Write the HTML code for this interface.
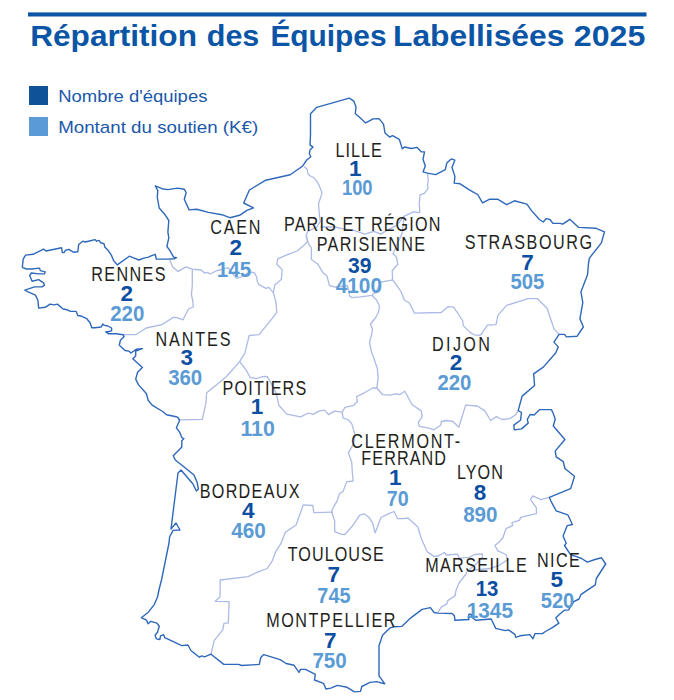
<!DOCTYPE html>
<html lang="fr"><head><meta charset="utf-8"><title>Répartition des Équipes Labellisées 2025</title>
<style>
html,body{margin:0;padding:0;background:#fff;}
svg{display:block;font-family:"Liberation Sans",Arial,sans-serif;}
</style></head><body>
<svg width="674" height="700" viewBox="0 0 674 700">
<rect x="28" y="12.4" width="618.5" height="4.1" fill="#0b55a6"/>
<text x="30.19" y="46.10" font-size="29" font-weight="bold" fill="#0b55a6" textLength="166.77" lengthAdjust="spacingAndGlyphs">Répartition</text>
<text x="206.75" y="46.10" font-size="29" font-weight="bold" fill="#0b55a6" textLength="52.60" lengthAdjust="spacingAndGlyphs">des</text>
<text x="270.40" y="46.10" font-size="29" font-weight="bold" fill="#0b55a6" textLength="116.22" lengthAdjust="spacingAndGlyphs">Équipes</text>
<text x="392.97" y="46.10" font-size="29" font-weight="bold" fill="#0b55a6" textLength="171.43" lengthAdjust="spacingAndGlyphs">Labellisées</text>
<text x="573.79" y="46.10" font-size="29" font-weight="bold" fill="#0b55a6" textLength="71.51" lengthAdjust="spacingAndGlyphs">2025</text>
<rect x="29" y="86" width="19" height="19" fill="#0f5298"/>
<rect x="29" y="117" width="19" height="19" fill="#5b9bd5"/>
<text x="58.19" y="101.60" font-size="17" font-weight="normal" fill="#1a58aa" textLength="149.18" lengthAdjust="spacingAndGlyphs">Nombre d&#39;équipes</text>
<text x="58.16" y="132.70" font-size="17" font-weight="normal" fill="#1a58aa" textLength="200.10" lengthAdjust="spacingAndGlyphs">Montant du soutien (K€)</text>
<g fill="none" stroke="#adbae6" stroke-width="1.3" stroke-linejoin="round">
<polyline points="304.1,166.4 307.1,169.3 308.2,174.2 311.1,176.5 313.8,177.6 316.9,181.4 319.1,185.4 321,190 322,193.1 318.5,203.8 319.4,214.5 320.3,221.6 316.7,227 307.8,231.4 306,235.9 307.8,241.2 302.5,246.6 297.1,251 290,253.6 285.7,255.3 277.7,258.9 276.8,264.2 282.2,269.6 281.3,279.4 275,284.7 273.3,292.7 268.8,287.4 266.1,288.3 259,284.7 257.2,281.2 256.7,277.3 254.5,272.9 250,271.8 241.9,276.6 236.7,278.4 232,273 228.2,267.7 222,269.5 217.2,270.5 210.1,274 207.4,272.3 204.7,273.1 201.2,270 192.3,269.2 186,266.9 178,271.4 172.7,266.9 169.8,260"/>
<polyline points="320.3,227 334.5,227 343.4,228.8 354.1,230.5 364.8,234.1 373.7,231.4 380.8,234.1 389.7,228.8 396.8,225.2 403.9,216.3 413.4,211.9 419.8,212.6"/>
<polyline points="427.5,173.1 428.2,180 427.5,185.9 428.2,188.2 424.5,193.4 420.1,194.8 419.3,203.7 419.8,212.6"/>
<polyline points="404.2,215.8 402.3,231.9 401.5,234.9 398,242 394.8,249.7 393,253.7 396.3,256.9 397.9,264.3 392.2,270.8 392.6,280"/>
<polyline points="306.5,236.5 308.2,243.1 311.4,248 311.4,259.4 318,264.3 322.8,272.4 326.9,275.7 329.4,285.5 335.1,287.1 342,286 347.3,285.5 349.8,296.1 352.2,297.7 360.4,296.9 371.8,295.3 376,292 380.8,282.2 393,279.8"/>
<polyline points="392.8,280 397.9,287.1 401.2,292 404.5,300.2 409.2,302.7 414.5,313.1 441.2,312.5 448.3,306.6 453.7,307.2 462.6,320.5 463.5,325.9 470,332.4 474.1,334.8 479.6,335.3 481.3,334.4 487.4,325.1 496,324.7 498,315.1 506.6,305.4 527.9,298.7 537.5,298.7 547.1,308.3 553.9,328.6 559.1,334.4"/>
<polyline points="371.8,295.3 376.7,300.2 379.5,306 378.5,312.5 375,318.5 370.5,324 372.5,329.5 371.5,335 369.5,342.5 371.5,352 374.5,360 377.3,368.6 378.2,377.4 376.8,388"/>
<polyline points="192.3,269.2 192.3,285.6 191.4,294.5 192.6,300 193.3,307 188.5,309 183,319.8 177.1,317.7 173.3,317.4 161.7,324.7 146.3,328 135.7,334.7 123.1,334.7"/>
<polyline points="273.3,292.7 275.9,301.6 276.8,312.3 271.5,319.4 259,334.6 249.2,335.5 246.6,346.1 244.8,353.3 242.3,357.1 239.6,361.6 226.3,376.7 215.6,385.6 206.7,392.7 205.8,403.4 202.3,419.4 180,419.8 178.5,418.5"/>
<polyline points="239.6,361.6 245.9,369.6 250.3,377.6 256.6,378.5 263.7,376.3 267.2,376.7 270.8,382.9 276.1,392.7 278.8,405.2 286.8,414.1 300.6,416.9 308.3,413 313.1,414.4 318.9,411.1 324.7,410.1 328.6,414.6 334.4,411.1 342.1,412.1 345,407.3 353.6,405.3 357.5,401.5 356.5,396.6 364.3,392.8 372.9,388 376.8,388 382.6,394.7 390.3,395.1 395.1,393.8 400,394.5 404.8,391.2 412,404.5 421.2,410.9 422.2,416.6 418.3,422.4 419.3,426.3 428.9,428.2 433.8,429.8 440.5,425.3 441.5,421.5 446.3,420.5 453,421.5 458.8,427.3 465.6,405.1 477.1,406 484.9,410.9 490.6,420.5 496.4,416.6 502.2,419.5 509.9,418.6 515.7,414.7 518.2,410.6"/>
<polyline points="342.1,412.1 343,417.9 348.3,420 351.7,423.6 355,434.7 353.6,443.9 348.4,452.6 351.7,462.2 352.3,471.9 353.1,481 346.6,481.9 343.1,491.4 339.5,493.7 337.1,500.9 333.6,506.8 331.5,511.5 334.7,521 334.7,531.7 340.7,534.1 344.8,534.5 352.6,525.8 359.7,515.1 364.4,513.9 369.2,517.5 372.7,523.4 375.1,532.9 381,517.5 388.2,513.9 394.1,511.5 397.7,518.7 403.6,518.7 408,518 417.8,527 421.4,538.8 427.3,551.9 434.5,556.6 439.2,555.5 444.3,552.5 446.3,555 457.5,554.1 459.2,558.2 469,557.3 474.8,554.5 482.3,553.8 482.3,557.5 476,564 467.3,571.2"/>
<polyline points="333,512.2 313.9,512.6 312.8,505.5 303.3,504.8 296.1,525 285.5,532.1 280.7,543.9 276,551.1 272.4,560.6 267.3,568.5 257,572.4 248,576.6 220.2,580 220,596.9 215.2,601.3 229.1,601.7 228.3,622.9 223.9,623.3 222.9,629.7 214.3,640.3 211,654.2"/>
<polyline points="467.3,571.2 465.7,574.5 459.2,582.6 455.9,590.8 455.1,595.7 447.7,600.6 446.9,603.9 441.2,607.1 437.8,612.6"/>
<polyline points="549.4,497.4 540.9,499.6 532.7,495.9 530.5,499.6 536.4,507.8 536.4,513.7 529.7,515.2 520.8,517.4 519.3,520.4 511.9,522.6 512.7,525.6 506,528.6 503,537.5 500.1,541.2 494.9,545.6 497.8,550.8 506,554.5 507.5,559.7 503,562.7 498.6,565.7 490,568.5 480,569.5 467.3,571.2"/>
</g>
<polygon points="316.7,107.3 349.3,98.2 353.8,101.1 356,107.1 355.3,113.7 358.2,116 365.7,122.9 373.1,118.9 379,118.6 383.5,124.1 385,133 389.6,137 392.6,135.6 399.3,139.3 402.3,148.9 404.5,147 411.2,148.5 417.1,147.4 421.5,151.9 424.5,151.9 423,159.3 425.3,166 423,171.9 427.5,173.1 435.6,174.6 445.3,169.7 446.8,163 451.2,158.9 454.9,160.1 452,167.5 454.9,176.4 454.2,183.1 460.1,183.8 469,189.7 474.2,192.7 477.7,194.5 482.5,202.8 489.3,199.3 498,199.3 506.6,204.7 514.4,200.8 526.9,204.1 531.7,210.9 539.4,219.5 543.3,222 546.2,218.6 550,219.5 552.9,223.4 560,223.4 562.7,224.2 569.8,219.3 578.7,227.4 595.6,228.2 604.5,231.8 601.4,242.9 589.4,258.1 588.5,263.4 587.6,274.5 580.9,291.9 582.8,302.5 579.9,318.9 583.4,327 580.9,330.5 577,336.3 566.4,336.9 564.5,334.4 559.1,334.4 553.9,342.1 558.3,346.9 555.8,352.7 543.3,367.1 533.6,373.9 534.6,385.5 522.1,396.1 518.2,410.6 521.5,412.5 520.5,420.3 513.8,425.1 514.3,429.9 521.5,428.9 528.2,423.1 527.3,419.3 530.1,414.5 534,415 539.8,409.6 551.4,409.6 553.3,413.5 555.2,419.3 553.3,426 564.9,439.5 555.2,451.1 556.2,456.9 563.3,461.7 564.9,468.5 574.5,476.2 572.2,483.9 570.6,488.7 549.4,497.4 551.4,502.2 556.2,510.9 567.8,514.8 572.4,524.5 567.2,525.6 563.1,536 566.2,543.2 564.5,545.5 570.7,554.9 575.9,556.4 581.6,558.5 587.3,562.1 595,559.5 601.5,557.8 605.7,564 596.3,578.5 595.3,584.8 581.1,594.3 579,599 573.8,601.6 570.7,606.3 568.6,609.9 564,610.4 559.3,614.6 555.8,618 558.9,623.2 552.7,627.4 545.4,631.5 542.3,633.6 535,633.6 533,638.8 529.9,634.6 520,635.8 515.7,637.3 515,634.3 508.3,629.9 505.3,630.6 495.7,628.4 491.2,619 475.6,620.2 471.9,617.3 471.2,614.3 469,614.3 468.2,617.3 469,619.5 454.9,620.2 454.4,615.8 451.9,613.5 437.8,613.1 434.1,612.5 430.4,607.6 422.1,609.4 410.5,618.1 401.8,626.4 394.1,626.8 389.9,627.9 382.5,635.3 379,645.7 379,675.9 384.7,683.7 376.5,681.6 370,682.4 361.8,686.5 360.5,691.4 354.5,691.9 347.1,687.3 337.3,685.4 330.8,688.1 325.9,689 323.5,683.3 314.5,680 315.3,674.3 305.5,669.4 300.6,669.4 299,672.3 294.1,665.3 286.1,663.5 280.1,659.6 263.8,654.6 260.8,657.5 259.3,664.4 241.5,665.5 238.6,664.4 223.8,664.4 211,654.2 204.6,656.9 201.8,655.9 199.4,657.2 190.9,650.5 187.9,645 181.8,645.6 164.8,637.7 163.6,634.7 160.5,635.9 159.9,639.5 156.3,638.9 155.1,635.3 157.5,632.3 159.3,626.2 156.9,623.1 150.8,621.3 148.1,623.7 146.5,620.1 141.3,617.7 148.4,612.2 154.4,604.3 157.5,597 159.3,588.5 161.5,580 169,543 169.6,537 173,530.4 180,530 176,523 171,529 178,473 181,470 193,484 196.4,491 198.4,489 197,482 194,475 186,468.5 175.3,460 173.2,455.7 177.5,451.4 181.8,447.1 181.8,440.7 183.9,438.6 181.8,437.5 179.6,432.1 176.4,427.8 179.5,420.5 178.1,417.6 176.2,416.7 166.5,414.8 162.7,411.5 152.1,405.1 148.2,400.3 146.3,393.5 138.6,384.9 135.7,379.1 137.6,372.3 142.4,367.5 132.8,358.8 135.7,355.9 135.7,351.1 142.4,348.6 136.6,349.2 130.9,353 128.9,351.1 125.1,350.5 119.3,345.3 120.3,340.5 124.1,336.6 123.1,334.7 116.4,333.8 108.7,333.8 105.8,331.8 107.7,331.8 111.6,330.9 111.6,328 107.7,326 103.9,325.1 102.9,324.1 101,327 95,327.7 91.7,327.7 90.1,322.8 86.8,318.7 81.9,316.3 77.8,315.5 76.2,311.4 70.5,311.4 67.2,309.8 63.1,309 57.4,304.1 54.2,304.9 50.1,304.1 45.2,307.3 38.7,308.1 37.8,300 35.4,295.1 28.1,291.8 24.8,290.2 34.6,286.9 41.9,286.9 44.4,285.3 43.6,282.8 38.7,279.6 32.1,281.2 29.7,275.5 31.3,273 38.7,273.9 44.4,273.9 45.2,271.9 40.3,270.6 39.5,268.1 31.3,269 26.4,269 22.3,267.3 23.2,259.2 25.6,255.1 33,254.3 43.6,249.1 46,251 61.5,247.7 62.3,252.6 64,252.6 65.6,250.2 68.9,249.4 73.8,252.3 77.8,251.8 78.7,244.5 82.7,241.2 85.2,242 88.4,241.2 95,239.6 96.6,241.2 99.1,240.4 100.7,242.8 104,243.7 104.8,246.9 108,250.2 111.3,255.1 113.7,260.8 117.3,264.9 129.3,256.2 134.1,258.1 138.9,260 143.8,258.1 148.6,257.1 150.5,256.2 155.3,254.3 156.3,259.1 167.9,259.1 174.6,258.7 176.5,257.7 173.6,257.1 169.8,250.4 166.9,246.5 168.8,237.9 167.9,232.1 168.8,220.5 165,214.7 159.2,208 157.3,197.4 157.8,190.6 155.3,185.8 162.1,188.7 167.9,189.6 177.5,188.1 184.3,189.3 186.2,192.5 184.3,199.3 189.1,209.9 196.8,209.3 208.4,212.4 221.9,214.7 229.8,217.7 239.6,215.3 246.9,210.4 253.5,207.9 243.7,203 249.4,190 265.7,180.2 290.2,174.8 302.4,166.3 306.7,160 310.8,156.8 309.3,153.8 310,150.1 313,147.1 310,144.9 310.5,134.5 310.5,113.7" fill="none" stroke="#2e68ba" stroke-width="1.4" stroke-linejoin="round"/>
<text transform="translate(335.57,156.50) scale(0.8,1)" font-size="20.2" font-weight="normal" fill="#231f20" style="letter-spacing:1.278px">LILLE</text>
<text transform="translate(464.77,249.00) scale(0.8,1)" font-size="20.2" font-weight="normal" fill="#231f20" style="letter-spacing:1.987px">STRASBOURG</text>
<text transform="translate(283.97,230.60) scale(0.8,1)" font-size="20.2" font-weight="normal" fill="#231f20" style="letter-spacing:1.435px">PARIS ET RÉGION</text>
<text transform="translate(316.77,251.10) scale(0.8,1)" font-size="20.2" font-weight="normal" fill="#231f20" style="letter-spacing:1.602px">PARISIENNE</text>
<text transform="translate(210.18,234.00) scale(0.8,1)" font-size="20.2" font-weight="normal" fill="#231f20" style="letter-spacing:2.267px">CAEN</text>
<text transform="translate(91.27,280.60) scale(0.8,1)" font-size="20.2" font-weight="normal" fill="#231f20" style="letter-spacing:1.730px">RENNES</text>
<text transform="translate(155.57,345.70) scale(0.8,1)" font-size="20.2" font-weight="normal" fill="#231f20" style="letter-spacing:2.355px">NANTES</text>
<text transform="translate(222.57,394.90) scale(0.8,1)" font-size="20.2" font-weight="normal" fill="#231f20" style="letter-spacing:1.472px">POITIERS</text>
<text transform="translate(431.97,350.80) scale(0.8,1)" font-size="20.2" font-weight="normal" fill="#231f20" style="letter-spacing:2.989px">DIJON</text>
<text transform="translate(351.28,447.80) scale(0.8,1)" font-size="20.2" font-weight="normal" fill="#231f20" style="letter-spacing:2.153px">CLERMONT-</text>
<text transform="translate(361.37,465.30) scale(0.8,1)" font-size="20.2" font-weight="normal" fill="#231f20" style="letter-spacing:1.373px">FERRAND</text>
<text transform="translate(456.97,479.40) scale(0.8,1)" font-size="20.2" font-weight="normal" fill="#231f20" style="letter-spacing:1.266px">LYON</text>
<text transform="translate(199.67,498.30) scale(0.8,1)" font-size="20.2" font-weight="normal" fill="#231f20" style="letter-spacing:1.638px">BORDEAUX</text>
<text transform="translate(287.74,561.40) scale(0.8,1)" font-size="20.2" font-weight="normal" fill="#231f20" style="letter-spacing:1.315px">TOULOUSE</text>
<text transform="translate(266.27,626.70) scale(0.8,1)" font-size="20.2" font-weight="normal" fill="#231f20" style="letter-spacing:1.892px">MONTPELLIER</text>
<text transform="translate(425.17,572.40) scale(0.8,1)" font-size="20.2" font-weight="normal" fill="#231f20" style="letter-spacing:1.705px">MARSEILLE</text>
<text transform="translate(536.97,566.70) scale(0.8,1)" font-size="20.2" font-weight="normal" fill="#231f20" style="letter-spacing:1.796px">NICE</text>
<text x="349.10" y="176.10" font-size="22.5" font-weight="bold" fill="#0b4ea2">1</text>
<text x="521.25" y="269.80" font-size="22.5" font-weight="bold" fill="#0b4ea2">7</text>
<text x="348.02" y="272.60" font-size="22.5" font-weight="bold" fill="#0b4ea2" textLength="23.47" lengthAdjust="spacingAndGlyphs">39</text>
<text x="229.50" y="255.30" font-size="22.5" font-weight="bold" fill="#0b4ea2">2</text>
<text x="120.45" y="300.60" font-size="22.5" font-weight="bold" fill="#0b4ea2">2</text>
<text x="180.44" y="365.40" font-size="22.5" font-weight="bold" fill="#0b4ea2">3</text>
<text x="250.65" y="414.20" font-size="22.5" font-weight="bold" fill="#0b4ea2">1</text>
<text x="449.70" y="370.30" font-size="22.5" font-weight="bold" fill="#0b4ea2">2</text>
<text x="389.10" y="485.30" font-size="22.5" font-weight="bold" fill="#0b4ea2">1</text>
<text x="473.73" y="500.10" font-size="22.5" font-weight="bold" fill="#0b4ea2">8</text>
<text x="242.08" y="518.30" font-size="22.5" font-weight="bold" fill="#0b4ea2">4</text>
<text x="327.45" y="581.90" font-size="22.5" font-weight="bold" fill="#0b4ea2">7</text>
<text x="324.00" y="647.90" font-size="22.5" font-weight="bold" fill="#0b4ea2">7</text>
<text x="475.82" y="595.70" font-size="22.5" font-weight="bold" fill="#0b4ea2" textLength="22.62" lengthAdjust="spacingAndGlyphs">13</text>
<text x="550.56" y="587.40" font-size="22.5" font-weight="bold" fill="#0b4ea2">5</text>
<text x="341.94" y="194.90" font-size="22.5" font-weight="bold" fill="#5b9bd5" textLength="30.61" lengthAdjust="spacingAndGlyphs">100</text>
<text x="510.58" y="289.00" font-size="22.5" font-weight="bold" fill="#5b9bd5" textLength="33.79" lengthAdjust="spacingAndGlyphs">505</text>
<text x="335.69" y="293.40" font-size="22.5" font-weight="bold" fill="#5b9bd5" textLength="46.27" lengthAdjust="spacingAndGlyphs">4100</text>
<text x="216.70" y="277.30" font-size="22.5" font-weight="bold" fill="#5b9bd5" textLength="34.48" lengthAdjust="spacingAndGlyphs">145</text>
<text x="110.19" y="321.20" font-size="22.5" font-weight="bold" fill="#5b9bd5" textLength="34.15" lengthAdjust="spacingAndGlyphs">220</text>
<text x="168.13" y="385.10" font-size="22.5" font-weight="bold" fill="#5b9bd5" textLength="34.11" lengthAdjust="spacingAndGlyphs">360</text>
<text x="240.40" y="435.60" font-size="22.5" font-weight="bold" fill="#5b9bd5" textLength="34.45" lengthAdjust="spacingAndGlyphs">110</text>
<text x="437.39" y="390.40" font-size="22.5" font-weight="bold" fill="#5b9bd5" textLength="33.94" lengthAdjust="spacingAndGlyphs">220</text>
<text x="386.86" y="506.10" font-size="22.5" font-weight="bold" fill="#5b9bd5" textLength="21.85" lengthAdjust="spacingAndGlyphs">70</text>
<text x="463.15" y="522.30" font-size="22.5" font-weight="bold" fill="#5b9bd5" textLength="34.40" lengthAdjust="spacingAndGlyphs">890</text>
<text x="231.19" y="538.20" font-size="22.5" font-weight="bold" fill="#5b9bd5" textLength="34.56" lengthAdjust="spacingAndGlyphs">460</text>
<text x="317.35" y="602.60" font-size="22.5" font-weight="bold" fill="#5b9bd5" textLength="33.10" lengthAdjust="spacingAndGlyphs">745</text>
<text x="312.42" y="668.20" font-size="22.5" font-weight="bold" fill="#5b9bd5" textLength="34.33" lengthAdjust="spacingAndGlyphs">750</text>
<text x="466.79" y="618.30" font-size="22.5" font-weight="bold" fill="#5b9bd5" textLength="46.19" lengthAdjust="spacingAndGlyphs">1345</text>
<text x="540.78" y="607.60" font-size="22.5" font-weight="bold" fill="#5b9bd5" textLength="33.54" lengthAdjust="spacingAndGlyphs">520</text>
</svg>
</body></html>
